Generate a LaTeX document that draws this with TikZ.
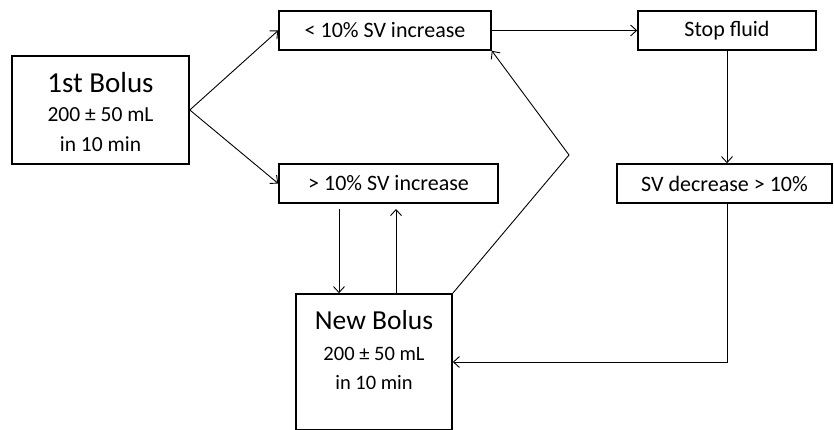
\documentclass[tikz,border=0pt]{standalone}
\usepackage{fontspec}
\setmainfont{Carlito}
\usetikzlibrary{arrows.meta}
\begin{document}
\begin{tikzpicture}[x=1pt,y=-1pt,
  box/.style={draw=black,line width=1.6pt,rectangle,inner sep=0pt,fill=white},
  conn/.style={line width=0.9pt,-{Straight Barb[length=6pt,width=11pt,line width=0.9pt]}},
  plain/.style={line width=0.9pt},
  lbl/.style={font=\fontsize{22}{26}\selectfont},
  big/.style={anchor=base,inner sep=0pt,font=\fontsize{29}{32}\selectfont},
  small/.style={anchor=base,inner sep=0pt,font=\fontsize{21.5}{24}\selectfont}]
\useasboundingbox (0,0) rectangle (834,430);
% boxes
\node[box,minimum width=177pt,minimum height=108pt] (b1) at (100.5,110) {};
\node[box,lbl,minimum width=212pt,minimum height=39pt] (lt) at (385,30.5) {< 10\% SV increase};
\node[box,lbl,minimum width=219pt,minimum height=39pt] (gt) at (388.5,183.5) {> 10\% SV increase};
\node[box,lbl,minimum width=178pt,minimum height=39pt] (sf) at (727,30.5) {Stop fluid};
\node[box,lbl,minimum width=215pt,minimum height=39pt] (sd) at (724.5,183.5) {SV decrease > 10\%};
\node[box,minimum width=156pt,minimum height=136pt] (nb) at (374,362) {};
% texts of the big boxes
\node[big] (b1a) at (100.5,93) {1st Bolus};
\node[small] (b1b) at (100.5,122) {200 ± 50 mL};
\node[small] (b1c) at (100.5,152) {in 10 min};
\node[big,font=\fontsize{27.5}{32}\selectfont] (nba) at (374,329) {New Bolus};
\node[small,font=\fontsize{20.5}{24}\selectfont] (nbb) at (374,360) {200 ± 50 mL};
\node[small,font=\fontsize{20.5}{24}\selectfont] (nbc) at (374,389) {in 10 min};
% connectors
\draw[conn] (b1.east) -- (lt.west);
\draw[conn] (b1.east) -- (gt.west);
\draw[conn] (lt.east) -- (sf.west);
\draw[conn] (sf.south) -- (sf.south |- sd.north);
\draw[conn] (sf.south |- sd.south) |- (nb.east);
\coordinate (d1) at (339,209);
\coordinate (u1) at (396,209);
\draw[conn] (d1) -- (d1 |- nb.north);
\draw[conn] (u1 |- nb.north) -- (u1);
\coordinate (kink) at (569,155);
\draw[conn] (nb.north east) -- (kink) -- (lt.south east);
\end{tikzpicture}
\end{document}
